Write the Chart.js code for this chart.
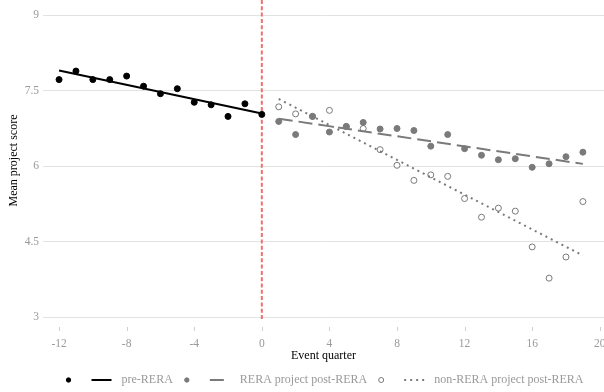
<!DOCTYPE html>
<html>
<head>
<meta charset="utf-8">
<script src="https://cdn.jsdelivr.net/npm/chart.js@4.4.0/dist/chart.umd.min.js"></script>
<style>
  html, body { margin: 0; padding: 0; background: #ffffff; }
  #wrap { width: 604px; height: 392px; }
</style>
</head>
<body>
<div id="wrap"><canvas id="c" width="604" height="392"></canvas></div>
<script>
// Quarterly mean project scores around the RERA event (quarter 0)
const preQuarters = [-12, -11, -10, -9, -8, -7, -6, -5, -4, -3, -2, -1, 0];
const preScores = [7.72, 7.89, 7.72, 7.72, 7.79, 7.59, 7.44, 7.54, 7.27, 7.22, 6.99, 7.24, 7.03];

const postQuarters = [1, 2, 3, 4, 5, 6, 7, 8, 9, 10, 11, 12, 13, 14, 15, 16, 17, 18, 19];
const reraScores = [6.89, 6.63, 6.99, 6.68, 6.79, 6.87, 6.74, 6.75, 6.71, 6.40, 6.63, 6.35, 6.22, 6.13, 6.15, 5.98, 6.05, 6.19, 6.28];
const nonReraScores = [7.18, 7.04, 6.99, 7.11, 6.79, 6.75, 6.33, 6.02, 5.72, 5.83, 5.80, 5.36, 4.99, 5.17, 5.11, 4.40, 3.78, 4.20, 5.30];

const xTickValues = [-12, -8, -4, 0, 4, 8, 12, 16, 20];
const yTickValues = [3, 4.5, 6, 7.5, 9];
const seriesLabels = ['pre-RERA', 'RERA project post-RERA', 'non-RERA project post-RERA'];

const SERIF = '"Liberation Serif", "Times New Roman", serif';
const GREY = '#7a7a7a';
const TEXT_GREY = '#9a9a9a';

// Ordinary least squares line over the observed quarters
function olsLine(xs, ys) {
  const n = xs.length;
  const mx = xs.reduce((a, b) => a + b, 0) / n;
  const my = ys.reduce((a, b) => a + b, 0) / n;
  let sxy = 0, sxx = 0;
  for (let i = 0; i < n; i++) {
    sxy += (xs[i] - mx) * (ys[i] - my);
    sxx += (xs[i] - mx) * (xs[i] - mx);
  }
  const b = sxy / sxx;
  const a = my - b * mx;
  const x0 = xs[0], x1 = xs[n - 1];
  return [{ x: x0, y: a + b * x0 }, { x: x1, y: a + b * x1 }];
}

const toPoints = (xs, ys) => xs.map((x, i) => ({ x: x, y: ys[i] }));

const styles = [
  { color: '#000000', dash: [], pointFill: '#000000' },
  { color: GREY, dash: [14, 6], pointFill: GREY },
  { color: GREY, dash: [2, 4], pointFill: '#ffffff' }
];

// Vertical marker at the event quarter
const eventLine = {
  id: 'eventLine',
  beforeDatasetsDraw(chart) {
    const { ctx, chartArea } = chart;
    const x = chart.scales.x.getPixelForValue(0);
    ctx.save();
    ctx.strokeStyle = '#f07070';
    ctx.lineWidth = 2;
    ctx.setLineDash([4, 2.3]);
    ctx.beginPath();
    ctx.moveTo(x, chartArea.top);
    ctx.lineTo(x, chartArea.bottom);
    ctx.stroke();
    ctx.restore();
  }
};

// Short tick marks under the x axis
const xTickMarks = {
  id: 'xTickMarks',
  afterDraw(chart) {
    const { ctx, chartArea } = chart;
    const xs = chart.scales.x;
    ctx.save();
    ctx.strokeStyle = '#cfcfcf';
    ctx.lineWidth = 1;
    xTickValues.forEach(v => {
      const px = Math.round(xs.getPixelForValue(v)) + 0.5;
      ctx.beginPath();
      ctx.moveTo(px, chartArea.bottom + 6);
      ctx.lineTo(px, chartArea.bottom + 10);
      ctx.stroke();
    });
    ctx.restore();
  }
};

// Legend row: point key, line key, label for each series
const legendRow = {
  id: 'legendRow',
  afterDraw(chart) {
    const { ctx } = chart;
    const y = 380;
    ctx.save();
    ctx.font = '12px ' + SERIF;
    const widths = seriesLabels.map(t => ctx.measureText(t).width);
    const toLine = 23, lineLen = 20, toText = 10, toNext = 14;
    const total = widths.reduce((a, b) => a + b, 0) + seriesLabels.length * (toLine + lineLen + toText) + (seriesLabels.length - 1) * toNext;
    let cx = 326 - total / 2;
    seriesLabels.forEach((label, i) => {
      const s = styles[i];
      ctx.setLineDash([]);
      ctx.beginPath();
      ctx.arc(cx, y, i === 2 ? 2.5 : 2.2, 0, Math.PI * 2);
      ctx.fillStyle = s.pointFill;
      ctx.fill();
      ctx.lineWidth = 1;
      ctx.strokeStyle = s.color;
      ctx.stroke();

      ctx.beginPath();
      ctx.lineWidth = 2;
      ctx.strokeStyle = s.color;
      ctx.setLineDash(s.dash);
      ctx.moveTo(cx + toLine, y);
      ctx.lineTo(cx + toLine + lineLen, y);
      ctx.stroke();
      ctx.setLineDash([]);

      ctx.fillStyle = TEXT_GREY;
      ctx.textAlign = 'left';
      ctx.textBaseline = 'middle';
      const tx = cx + toLine + lineLen + toText;
      ctx.fillText(label, tx, y);
      cx = tx + widths[i] + toNext;
    });
    ctx.restore();
  }
};

const lineDataset = (label, data, s) => ({
  type: 'line',
  label: label,
  data: data,
  borderColor: s.color,
  borderWidth: 2,
  borderDash: s.dash,
  borderCapStyle: 'butt',
  pointRadius: 0,
  fill: false,
  tension: 0
});

const pointDataset = (label, data, s) => ({
  type: 'scatter',
  label: label,
  data: data,
  pointRadius: 3,
  pointBackgroundColor: s.pointFill,
  pointBorderColor: s.color,
  pointBorderWidth: 1,
  showLine: false
});

new Chart(document.getElementById('c'), {
  data: {
    datasets: [
      lineDataset(seriesLabels[0], olsLine(preQuarters, preScores), styles[0]),
      lineDataset(seriesLabels[1], olsLine(postQuarters, reraScores), styles[1]),
      lineDataset(seriesLabels[2], olsLine(postQuarters, nonReraScores), styles[2]),
      pointDataset(seriesLabels[0], toPoints(preQuarters, preScores), styles[0]),
      pointDataset(seriesLabels[1], toPoints(postQuarters, reraScores), styles[1]),
      pointDataset(seriesLabels[2], toPoints(postQuarters, nonReraScores), styles[2])
    ]
  },
  options: {
    responsive: false,
    animation: false,
    devicePixelRatio: 1,
    layout: { autoPadding: false, padding: { left: 0, right: 0, top: 0, bottom: 28 } },
    plugins: { legend: { display: false }, tooltip: { enabled: false } },
    scales: {
      x: {
        type: 'linear',
        min: -12.95,
        max: 20.25,
        afterBuildTicks: s => { s.ticks = xTickValues.map(v => ({ value: v })); },
        afterFit: s => { s.height = 43; s.paddingLeft = 0; s.paddingRight = 0; },
        grid: { display: false, drawTicks: false },
        border: { display: false },
        ticks: { color: TEXT_GREY, font: { family: SERIF, size: 11.5 }, padding: 16, maxRotation: 0 },
        title: { display: true, text: 'Event quarter', color: '#000000', font: { family: SERIF, size: 12 }, padding: { top: 0, bottom: 1 } }
      },
      y: {
        type: 'linear',
        min: 2.93,
        max: 9.3,
        afterBuildTicks: s => { s.ticks = yTickValues.map(v => ({ value: v })); },
        afterFit: s => { s.width = 43; s.paddingTop = 0; s.paddingBottom = 0; },
        grid: { color: '#e2e2e2', lineWidth: 1, drawTicks: false },
        border: { display: false },
        ticks: { color: TEXT_GREY, font: { family: SERIF, size: 11.5 }, padding: 4, callback: v => String(v) },
        title: { display: true, text: 'Mean project score', color: '#000000', font: { family: SERIF, size: 12 }, padding: { top: 7, bottom: 0 } }
      }
    }
  },
  plugins: [eventLine, xTickMarks, legendRow]
});
</script>
</body>
</html>
